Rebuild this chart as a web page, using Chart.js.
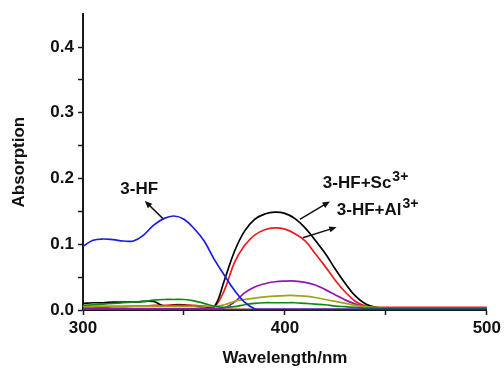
<!DOCTYPE html>
<html>
<head>
<meta charset="utf-8">
<script src="https://cdn.jsdelivr.net/npm/chart.js@4.4.1/dist/chart.umd.min.js"></script>
<style>
  html, body { margin: 0; padding: 0; background: #fff; }
  #chart { display: block; }
</style>
</head>
<body>
<canvas id="chart" width="504" height="369"></canvas>
<script>
// wavelength grid (nm)
const wavelength = [300, 305, 310, 315, 320, 325, 330, 335, 340, 345, 350, 355, 360, 365, 370, 375, 380, 385, 390, 395,
  400, 405, 410, 415, 420, 425, 430, 435, 440, 445, 450, 455, 460, 465, 470, 475, 480, 485, 490, 495, 500];

// absorption values
const hf = [0.097, 0.106, 0.108, 0.107, 0.105, 0.105, 0.114, 0.129, 0.139, 0.143, 0.138, 0.124, 0.105, 0.077, 0.053, 0.030, 0.012, 0.002, 0.001, 0.001,
  0.001, 0.001, 0.001, 0.001, 0.001, 0.001, 0.001, 0.001, 0.001, 0.001, 0.001, 0.001, 0.001, 0.001, 0.001, 0.001, 0.001, 0.001, 0.001, 0.001, 0.001];
const hfSc = [0.010, 0.011, 0.011, 0.012, 0.012, 0.012, 0.013, 0.013, 0.006, 0.007, 0.007, 0.006, 0.005, 0.005, 0.045, 0.089, 0.120, 0.138, 0.146, 0.149,
  0.147, 0.139, 0.125, 0.106, 0.086, 0.062, 0.040, 0.021, 0.009, 0.004, 0.003, 0.003, 0.003, 0.003, 0.003, 0.003, 0.003, 0.003, 0.003, 0.003, 0.003];
const hfAl = [0.003, 0.003, 0.004, 0.005, 0.005, 0.006, 0.006, 0.007, 0.007, 0.008, 0.008, 0.007, 0.006, 0.005, 0.030, 0.072, 0.098, 0.114, 0.122, 0.125,
  0.123, 0.116, 0.105, 0.086, 0.066, 0.045, 0.027, 0.013, 0.006, 0.004, 0.004, 0.004, 0.004, 0.004, 0.004, 0.004, 0.004, 0.004, 0.004, 0.004, 0.004];
const purpleSeries = [0.002, 0.002, 0.002, 0.002, 0.002, 0.002, 0.002, 0.002, 0.002, 0.002, 0.002, 0.002, 0.002, 0.002, 0.003, 0.012, 0.026, 0.035, 0.040, 0.043,
  0.044, 0.044, 0.042, 0.038, 0.031, 0.023, 0.015, 0.009, 0.005, 0.003, 0.002, 0.002, 0.002, 0.002, 0.002, 0.002, 0.002, 0.002, 0.002, 0.002, 0.002];
const oliveSeries = [0.006, 0.006, 0.006, 0.006, 0.006, 0.006, 0.006, 0.006, 0.006, 0.006, 0.006, 0.006, 0.006, 0.005, 0.008, 0.013, 0.016, 0.018, 0.020, 0.021,
  0.022, 0.022, 0.021, 0.019, 0.016, 0.013, 0.010, 0.007, 0.005, 0.004, 0.003, 0.003, 0.003, 0.003, 0.003, 0.003, 0.003, 0.003, 0.003, 0.003, 0.003];
const greenSeries = [0.007, 0.008, 0.009, 0.010, 0.011, 0.012, 0.013, 0.015, 0.016, 0.016, 0.016, 0.014, 0.010, 0.006, 0.004, 0.005, 0.008, 0.010, 0.011, 0.011,
  0.011, 0.011, 0.010, 0.009, 0.008, 0.006, 0.005, 0.004, 0.003, 0.003, 0.003, 0.003, 0.003, 0.003, 0.003, 0.003, 0.003, 0.003, 0.003, 0.003, 0.003];
const darkRedSeries = [0.001, 0.001, 0.001, 0.001, 0.001, 0.001, 0.001, 0.001, 0.001, 0.001, 0.001, 0.001, 0.001, 0.001, 0.001, 0.001, 0.001, 0.001, 0.001, 0.001,
  0.001, 0.001, 0.001, 0.001, 0.001, 0.001, 0.001, 0.001, 0.001, 0.001, 0.001, 0.001, 0.001, 0.001, 0.001, 0.001, 0.001, 0.001, 0.001, 0.001, 0.001];

const xTickLabels = [300, 400, 500];
const yTickLabels = [0.0, 0.1, 0.2, 0.3, 0.4];

const FONT = '"Liberation Sans", Arial, sans-serif';
const AXIS = '#1a1a1a';

function toPoints(values) {
  return values.map((v, i) => ({ x: wavelength[i], y: v }));
}

function line(values, color) {
  return {
    data: toPoints(values),
    borderColor: color,
    borderWidth: 1.7,
    pointRadius: 0,
    fill: false,
    tension: 0.4,
  };
}

// labels with arrows, in data coordinates
const notes = [
  { text: '3-HF', sup: '', tx: 318.5, ty: 0.177, from: [339.6, 0.139], to: [330.6, 0.166] },
  { text: '3-HF+Sc', sup: '3+', tx: 418.8, ty: 0.185, from: [407.4, 0.138], to: [422.3, 0.165] },
  { text: '3-HF+Al', sup: '3+', tx: 425.7, ty: 0.144, from: [408.9, 0.110], to: [425.6, 0.126] },
];

const notesPlugin = {
  id: 'notes',
  afterDatasetsDraw(chart) {
    const { ctx, scales: { x, y } } = chart;
    ctx.save();
    ctx.fillStyle = '#111';
    ctx.strokeStyle = '#111';
    ctx.textBaseline = 'alphabetic';
    notes.forEach(n => {
      const tx = x.getPixelForValue(n.tx);
      const ty = y.getPixelForValue(n.ty);
      ctx.font = `bold 17px ${FONT}`;
      ctx.textAlign = 'left';
      ctx.fillText(n.text, tx, ty);
      if (n.sup) {
        const w = ctx.measureText(n.text).width;
        ctx.font = `bold 14px ${FONT}`;
        ctx.fillText(n.sup, tx + w + 1, ty - 7);
      }

      // arrow shaft
      const x0 = x.getPixelForValue(n.from[0]);
      const y0 = y.getPixelForValue(n.from[1]);
      const x1 = x.getPixelForValue(n.to[0]);
      const y1 = y.getPixelForValue(n.to[1]);
      const ang = Math.atan2(y1 - y0, x1 - x0);
      const head = 8;
      ctx.lineWidth = 1.5;
      ctx.beginPath();
      ctx.moveTo(x0, y0);
      ctx.lineTo(x1 - Math.cos(ang) * head * 0.6, y1 - Math.sin(ang) * head * 0.6);
      ctx.stroke();
      // arrow head
      ctx.beginPath();
      ctx.moveTo(x1, y1);
      ctx.lineTo(x1 - head * Math.cos(ang - 0.4), y1 - head * Math.sin(ang - 0.4));
      ctx.lineTo(x1 - head * Math.cos(ang + 0.4), y1 - head * Math.sin(ang + 0.4));
      ctx.closePath();
      ctx.fill();
    });
    ctx.restore();
  }
};

new Chart(document.getElementById('chart'), {
  type: 'line',
  data: {
    datasets: [
      line(hf, '#1c1ce0'),
      line(greenSeries, '#0f8a0f'),
      line(oliveSeries, '#a3a01a'),
      line(purpleSeries, '#9016b0'),
      line(hfSc, '#000000'),
      line(darkRedSeries, '#8b1a1a'),
      line(hfAl, '#ee1c1c'),
    ],
  },
  options: {
    responsive: false,
    animation: false,
    layout: { padding: { top: 14, right: 17, left: 0, bottom: 0 } },
    plugins: { legend: { display: false }, tooltip: { enabled: false } },
    scales: {
      x: {
        type: 'linear',
        min: 300,
        max: 500,
        afterFit: s => { s.height = 59; },
        border: { color: AXIS, width: 2 },
        grid: { drawOnChartArea: false, tickLength: 5, color: AXIS, tickWidth: 1.5 },
        ticks: {
          stepSize: 50,
          autoSkip: false,
          maxRotation: 0,
          padding: 3,
          color: '#111',
          font: { family: FONT, size: 17, weight: 'bold' },
          callback: v => (xTickLabels.includes(v) ? String(v) : ''),
        },
        title: {
          display: true,
          text: 'Wavelength/nm',
          color: '#111',
          font: { family: FONT, size: 17, weight: 'bold' },
          padding: { top: 0, bottom: 0 },
        },
      },
      y: {
        min: 0,
        max: 0.45,
        afterFit: s => { s.width = 83; },
        border: { color: AXIS, width: 2 },
        grid: {
          drawOnChartArea: false,
          tickLength: 5,
          tickWidth: 1.5,
          color: AXIS,
          tickColor: c => (c.tick && c.tick.value > 0.42 ? 'rgba(0,0,0,0)' : AXIS),
        },
        ticks: {
          stepSize: 0.05,
          autoSkip: false,
          padding: 4,
          color: '#111',
          font: { family: FONT, size: 17, weight: 'bold' },
          callback: v => {
            const hit = yTickLabels.find(t => Math.abs(t - v) < 1e-6);
            return hit !== undefined ? hit.toFixed(1) : '';
          },
        },
        title: {
          display: true,
          text: 'Absorption',
          color: '#111',
          font: { family: FONT, size: 17, weight: 'bold' },
          padding: { top: 9, bottom: 0 },
        },
      },
    },
  },
  plugins: [notesPlugin],
});
</script>
</body>
</html>
